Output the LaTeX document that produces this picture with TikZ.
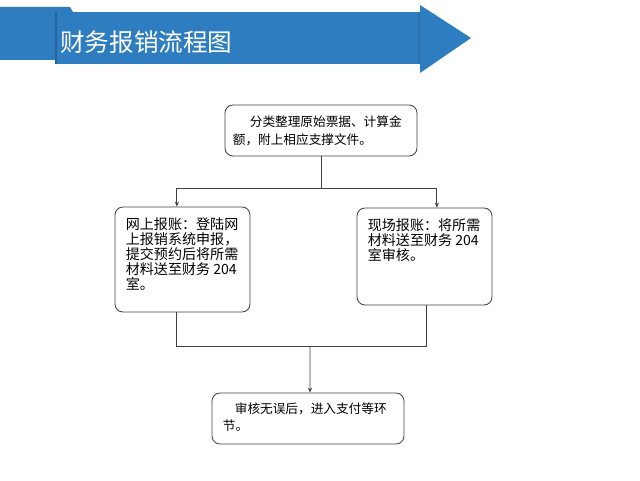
\documentclass[tikz,border=0pt]{standalone}
\usepackage{fontspec}
\newfontfamily\cjk{Noto Sans CJK SC}
\usepackage{xcolor}
\usetikzlibrary{positioning,calc,arrows.meta}
\definecolor{bannerblue}{RGB}{46,125,193}

\begin{document}
\begin{tikzpicture}[
    box/.style={draw=black!75, line width=0.6pt, rounded corners=0.2cm},
    txtsmall/.style={font=\cjk\fontsize{9}{12.6}\selectfont, align=left, inner sep=0pt, anchor=north west},
    txtbig/.style={font=\cjk\fontsize{10}{10.7}\selectfont, align=left, inner sep=0pt, anchor=north west},
    link/.style={draw=black!75, line width=0.6pt},
    arr/.style={link, -{Stealth[length=3.5pt,width=3pt]}}
]
    \useasboundingbox (0,0) rectangle (16,12);

    % title banner
    \fill[bannerblue] (0,11.825) -- (1.75,11.825) -- (1.825,11.7) -- (1.825,10.5) -- (0,10.5) -- cycle;
    \fill[bannerblue] (1.375,11.7) rectangle (10.5,10.4);
    \fill[bannerblue!80!black] (1.375,11.7) rectangle (1.42,10.4);
    \fill[bannerblue!90!black] (10.45,11.7) rectangle (10.5,10.4);
    \fill[bannerblue] (10.5,11.875) -- (11.775,11.05) -- (10.5,10.175) -- cycle;
    \node[font=\cjk\fontsize{17.5}{20}\selectfont, text=white, anchor=west, inner sep=0pt] (title) at (1.5,10.95) {财务报销流程图};

    % boxes
    \node[box, minimum width=4.8cm, minimum height=1.275cm] (sort) at (8.025,8.7375) {};
    \node[box, minimum width=3.375cm, minimum height=2.625cm] (online) at (4.5625,5.5125) {};
    \node[box, minimum width=3.375cm, minimum height=2.425cm] (onsite) at (10.6125,5.5875) {};
    \node[box, minimum width=4.8cm, minimum height=1.275cm] (audit) at (7.7,1.5375) {};

    \node[txtsmall] (sort-t) at ([xshift=0.2cm,yshift=-0.27cm]sort.north west)
        {\hspace*{0.425cm}分类整理原始票据、计算金\\额，附上相应支撑文件。};
    \node[txtbig] (online-t) at ([xshift=0.275cm,yshift=-0.27cm]online.north west)
        {网上报账：登陆网\\上报销系统申报，\\提交预约后将所需\\材料送至财务 204\\室。};
    \node[txtbig] (onsite-t) at ([xshift=0.275cm,yshift=-0.26cm]onsite.north west)
        {现场报账：将所需\\材料送至财务 204\\室审核。};
    \node[txtsmall, font=\cjk\fontsize{9}{12.1}\selectfont] (audit-t) at ([xshift=0.275cm,yshift=-0.25cm]audit.north west)
        {\hspace*{0.3cm}审核无误后，进入支付等环\\节。};

    % connectors
    \coordinate (split) at (8.025,7.3);
    \coordinate (merge) at (7.75,3.35);
    \draw[link] (sort.south) -- (split);
    \draw[arr] (split) -| ([xshift=-0.14cm]online.north);
    \draw[arr] (split) -| ([xshift=0.31cm]onsite.north);
    \draw[link] ([xshift=-0.16cm]online.south) |- (merge);
    \draw[link] ([xshift=0.04cm]onsite.south) |- (merge);
    \draw[arr] (merge) -- ([xshift=0.05cm]audit.north);
\end{tikzpicture}
\end{document}
